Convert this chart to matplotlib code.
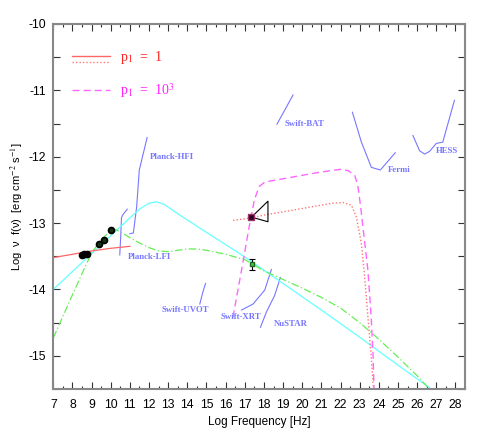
import matplotlib
matplotlib.use("Agg")
import matplotlib.pyplot as plt
from matplotlib.ticker import MultipleLocator

plt.rcParams['font.family'] = ['Liberation Sans', 'DejaVu Sans']
plt.rcParams['mathtext.fontset'] = 'stix'

# model curves (log nu, log nu f(nu))
red_lo_x = [7, 8, 9, 10, 11]
red_lo_y = [-13.52, -13.47, -13.42, -13.38, -13.35]

red_hi_x = [16.39, 17.35, 18, 19, 20, 21, 21.6, 22.13, 22.57, 22.83, 23.09, 23.26, 23.43, 23.6, 23.72]
red_hi_y = [-12.96, -12.92, -12.88, -12.83, -12.78, -12.73, -12.70, -12.69, -12.73, -12.91, -13.31, -13.81, -14.41, -15.0, -15.5]

mag_x = [16.38, 16.9, 17.2, 17.5, 17.75, 18.05, 18.65, 20, 21, 22.0, 22.4, 22.74, 22.9, 23.05, 23.17, 23.43, 23.6, 23.7, 23.75]
mag_y = [-14.42, -13.6, -13.1, -12.65, -12.45, -12.38, -12.35, -12.28, -12.23, -12.19, -12.21, -12.28, -12.43, -12.75, -13.06, -13.71, -14.41, -15.0, -15.5]

cyan_x = [7, 8, 9, 10, 11, 11.5, 12, 12.4, 12.8, 13.5, 15, 17, 19, 21, 23, 25, 26.74]
cyan_y = [-14.0, -13.73, -13.46, -13.19, -12.92, -12.79, -12.70, -12.68, -12.72, -12.86, -13.14, -13.51, -13.91, -14.31, -14.72, -15.14, -15.5]

green_x = [7, 8, 8.5, 9, 9.5, 10, 10.3, 10.6, 11, 11.5, 12, 12.5, 13, 13.5, 14, 14.5, 15, 16, 17, 18, 19, 20, 21, 22, 23, 24, 25, 26, 26.65]
green_y = [-14.73, -14.08, -13.76, -13.45, -13.25, -13.11, -13.10, -13.15, -13.22, -13.30, -13.37, -13.42, -13.43, -13.41, -13.39, -13.39, -13.41, -13.47, -13.55, -13.72, -13.85, -13.98, -14.12, -14.28, -14.50, -14.75, -15.02, -15.30, -15.5]

# observed points
radio_x = [8.48, 8.6, 8.74, 9.4, 9.65, 9.99]
radio_y = [-13.48, -13.47, -13.46, -13.32, -13.25, -13.10]
xray_x, xray_y, xray_err = 17.38, -13.62, 0.08
bow_x = [17.35, 18.21, 18.21, 17.35]
bow_y = [-12.91, -12.67, -12.98, -12.91]

# instrument sensitivities
instruments = {
    'Planck-HFI': ([11.0, 11.18, 11.35, 11.49, 11.9], [-13.16, -13.15, -12.76, -12.2, -11.71], (12.05, -12.0)),
    'Planck-LFI': ([10.47, 10.52, 10.56, 10.62, 10.86], [-13.48, -13.2, -12.92, -12.88, -12.79], (10.91, -13.51)),
    'Swift-UVOT': ([14.65, 14.8, 14.95], [-14.22, -14.05, -13.91], (12.66, -14.31)),
    'Swift-XRT': ([16.83, 17.43, 18.04, 18.39], [-14.31, -14.22, -14.01, -13.70], (15.75, -14.41)),
    'NuSTAR': ([17.82, 18.13, 18.56, 18.86], [-14.57, -14.34, -14.09, -13.82], (18.51, -14.52)),
    'Swift-BAT': ([18.68, 19.52], [-11.51, -11.07], (19.09, -11.5)),
    'Fermi': ([22.62, 23.09, 23.61, 24.08, 24.86], [-11.33, -11.78, -12.16, -12.20, -11.94], (24.48, -12.2)),
    'HESS': ([25.78, 26.13, 26.39, 26.65, 27.0, 27.34, 27.95], [-11.68, -11.91, -11.96, -11.92, -11.80, -11.78, -11.15], (27.0, -11.91)),
}

fig = plt.figure(figsize=(4.91, 4.36), dpi=100)
ax = fig.add_axes([0.1086, 0.1078, 0.8384, 0.8372])

blue = '#7777ff'
for name, (xs, ys, (tx, ty)) in instruments.items():
    ax.plot(xs, ys, color=blue, lw=0.8)
    ax.text(tx, ty, name, color=blue, fontsize=6.3, family='Liberation Serif',
            fontweight='bold', va='center', ha='left')

ax.plot(cyan_x, cyan_y, color='#66ffff', lw=0.9)
ax.plot(green_x, green_y, color='#66ee55', lw=0.9, dashes=(6, 2, 1, 2))
ax.plot(red_lo_x, red_lo_y, color='#ff6666', lw=0.9)
ax.plot(red_hi_x, red_hi_y, color='#ff7777', lw=1.0, ls=(0, (1, 1.5)))
ax.plot(mag_x, mag_y, color='#ff66ff', lw=1.0, dashes=(5, 3))

ax.plot(radio_x, radio_y, 'o', color='black', ms=4.5, mec='black')
ax.plot(radio_x[3:], radio_y[3:], 'o', color='#113311', ms=3, mec='none')
ax.errorbar([xray_x], [xray_y], yerr=[xray_err], fmt='s', color='#44cc44', ms=3,
            mec='#226622', ecolor='black', elinewidth=0.8, capsize=2.5, capthick=0.8)
ax.plot(bow_x, bow_y, color='black', lw=0.8)
ax.plot([17.35], [-12.91], 's', color='#330022', ms=4, mec='#993366')

# legend
ax.plot([7.98, 9.96], [-10.49, -10.49], color='#ff6666', lw=1.0)
ax.plot([7.98, 9.96], [-10.58, -10.58], color='#ff7777', lw=1.0, ls=(0, (1, 1.5)))
ax.text(10.48, -10.5, r'p$_1$  =  1', color='#ff2222', fontsize=10, family='Liberation Serif', va='center')
ax.plot([7.98, 9.96], [-11.0, -11.0], color='#ff66ff', lw=1.0, dashes=(5, 3))
ax.text(10.48, -11.0, r'p$_1$  =  10$^3$', color='#ff22ff', fontsize=10, family='Liberation Serif', va='center')

ax.set_xlim(7, 28.5)
ax.set_ylim(-15.5, -10)
ax.xaxis.set_major_locator(MultipleLocator(1))
ax.xaxis.set_minor_locator(MultipleLocator(0.5))
ax.yaxis.set_major_locator(MultipleLocator(1))
ax.yaxis.set_minor_locator(MultipleLocator(0.5))
ax.tick_params(which='both', direction='in', top=True, right=True, color='#333333', width=0.8)
ax.tick_params(which='major', length=5, labelsize=8.8)
ax.tick_params(axis='x', which='major', pad=7)
ax.tick_params(axis='y', which='major', pad=5)
ax.tick_params(which='minor', length=2.5)
ax.tick_params(axis='y', which='minor', length=5)
ax.set_yticklabels(['%d' % v for v in ax.get_yticks()])
for s in ax.spines.values():
    s.set_color('#888888')
    s.set_linewidth(1.5)

ax.set_xlabel('Log Frequency [Hz]', fontsize=8.5, labelpad=4)
ax.set_ylabel(r'Log  ν  f(ν)  [erg cm$^{-2}$ s$^{-1}$]', fontsize=8, labelpad=3)

fig.savefig('out.png', dpi=100)
